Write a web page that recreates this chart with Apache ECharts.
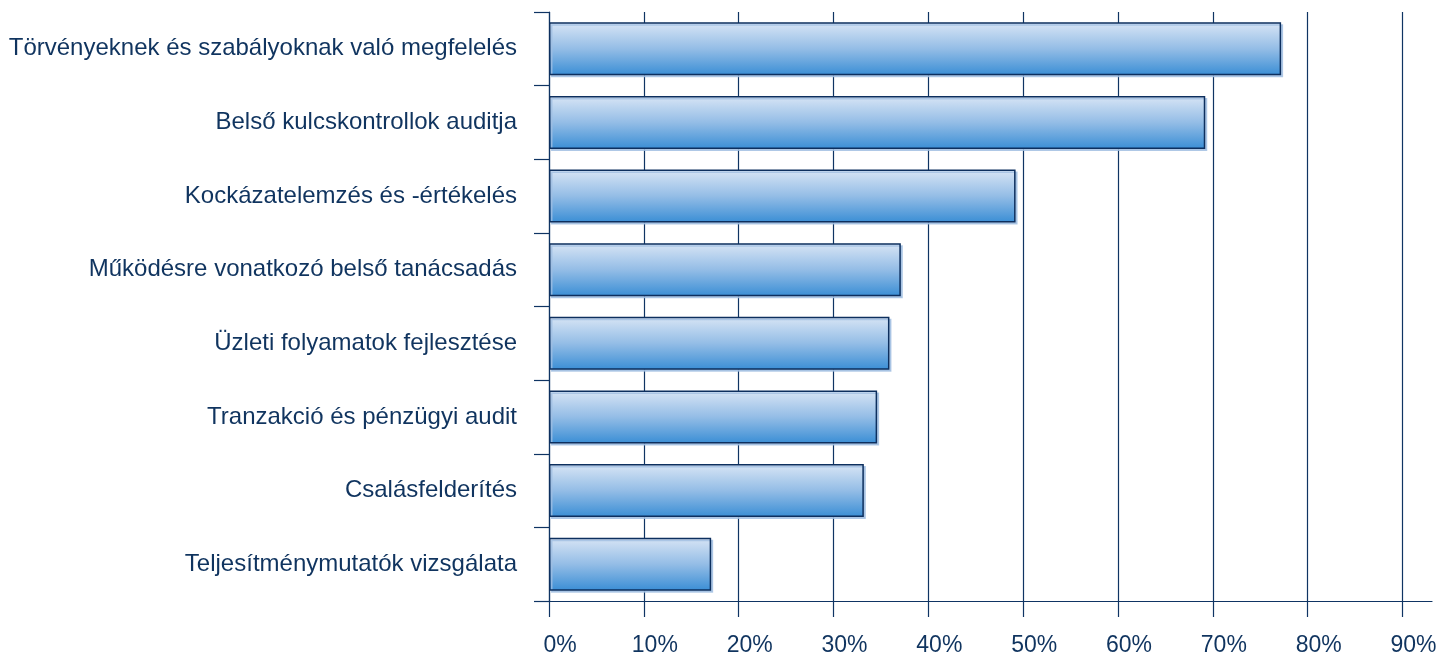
<!DOCTYPE html>
<html>
<head>
<meta charset="utf-8">
<script src="https://cdn.jsdelivr.net/npm/echarts@6/dist/echarts.min.js"></script>
<style>
  html, body { margin: 0; padding: 0; background: #ffffff; }
  #chart { width: 1452px; height: 657px; }
</style>
</head>
<body>
<div id="chart"></div>
<script>
// Internal audit activity areas and the share of respondents naming each (%)
const categories = [
  'Törvényeknek és szabályoknak való megfelelés',
  'Belső kulcskontrollok auditja',
  'Kockázatelemzés és -értékelés',
  'Működésre vonatkozó belső tanácsadás',
  'Üzleti folyamatok fejlesztése',
  'Tranzakció és pénzügyi audit',
  'Csalásfelderítés',
  'Teljesítménymutatók vizsgálata'
];
const shares = [77.2, 69.2, 49.2, 37.1, 35.9, 34.6, 33.2, 17.1];

const navy = '#0f3463';
const textColor = '#10345f';
const fontFamily = '"Liberation Sans", Arial, Helvetica, sans-serif';

const chart = echarts.init(document.getElementById('chart'), null, { renderer: 'canvas' });

chart.setOption({
  animation: false,
  grid: [
    // plotting area, 0–90 %
    { left: 549, right: 49.5, top: 12, bottom: 56, containLabel: false },
    // same vertical extent, wider: carries the extended baseline
    { left: 549, right: 20, top: 12, bottom: 56, containLabel: false }
  ],
  xAxis: [{
    type: 'value',
    gridIndex: 0,
    min: 0,
    max: 90,
    interval: 10,
    axisLine: { show: false },
    axisTick: { show: true, inside: false, length: 16, lineStyle: { color: navy, width: 1.2 } },
    splitLine: { show: true, lineStyle: { color: navy, width: 1.2 } },
    axisLabel: {
      formatter: '{value}%',
      color: textColor,
      fontFamily: fontFamily,
      fontSize: 23,
      margin: 33,
      padding: [0, 0, 0, 22]
    }
  }, {
    type: 'value',
    gridIndex: 1,
    min: 0,
    max: 1,
    axisLine: { show: true, lineStyle: { color: navy, width: 1.2 } },
    axisTick: { show: false },
    splitLine: { show: false },
    axisLabel: { show: false }
  }],
  yAxis: [{
    type: 'category',
    gridIndex: 0,
    data: categories,
    inverse: true,
    axisLine: { show: true, lineStyle: { color: navy, width: 1.2 } },
    axisTick: { show: true, inside: false, length: 15, alignWithLabel: false, lineStyle: { color: navy, width: 1.2 } },
    splitLine: { show: false },
    axisLabel: {
      color: textColor,
      fontFamily: fontFamily,
      fontSize: 24,
      margin: 32
    }
  }, {
    type: 'category',
    gridIndex: 1,
    data: categories,
    inverse: true,
    show: false
  }],
  series: [{
    type: 'bar',
    xAxisIndex: 0,
    yAxisIndex: 0,
    data: shares,
    barWidth: 53,
    itemStyle: {
      color: new echarts.graphic.LinearGradient(0, 0, 0, 1, [
        { offset: 0, color: '#d8e5f5' },
        { offset: 0.5, color: '#94bde6' },
        { offset: 1, color: '#3a8ed5' }
      ]),
      borderColor: '#0d2f5e',
      borderWidth: 1.5,
      shadowColor: 'rgba(160,190,225,0.8)',
      shadowOffsetX: 2,
      shadowOffsetY: 2,
      shadowBlur: 0
    }
  }]
});
</script>
</body>
</html>
